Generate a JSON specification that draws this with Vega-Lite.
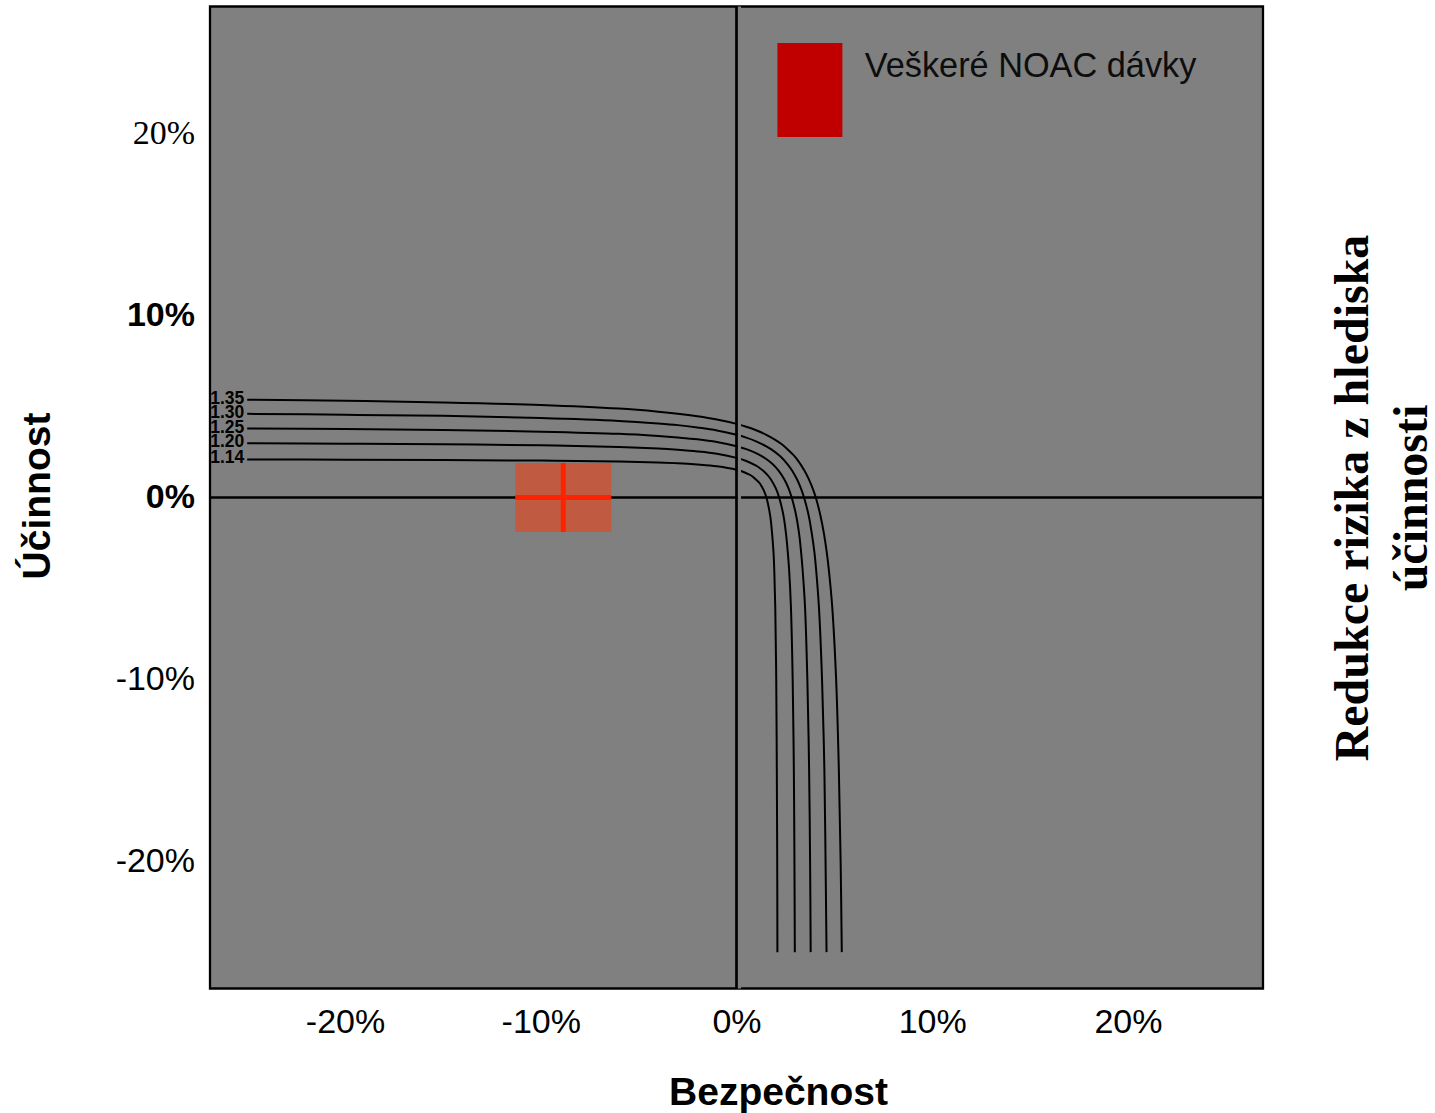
{
  "$schema": "https://vega.github.io/schema/vega-lite/v6.json",
  "width": 1053,
  "height": 982,
  "autosize": "none",
  "padding": {"left": 210, "top": 6.5, "right": 172, "bottom": 124.5},
  "background": "white",
  "config": {
    "view": {"fill": "#808080", "stroke": "#000000", "strokeWidth": 2.3},
    "font": "Liberation Sans"
  },
  "datasets": {
    "curves": [
      {"c": "1.35", "x": -25, "y": 5.38}, {"c": "1.35", "x": -20, "y": 5.32}, {"c": "1.35", "x": -15, "y": 5.23}, {"c": "1.35", "x": -10, "y": 5.09},
      {"c": "1.35", "x": -6, "y": 4.89}, {"c": "1.35", "x": -4, "y": 4.72}, {"c": "1.35", "x": -3, "y": 4.61}, {"c": "1.35", "x": -2, "y": 4.47},
      {"c": "1.35", "x": -1, "y": 4.29}, {"c": "1.35", "x": 0, "y": 4.05}, {"c": "1.35", "x": 0.5, "y": 3.89}, {"c": "1.35", "x": 1, "y": 3.70},
      {"c": "1.35", "x": 1.5, "y": 3.46}, {"c": "1.35", "x": 2, "y": 3.16}, {"c": "1.35", "x": 2.3, "y": 2.94}, {"c": "1.35", "x": 2.63, "y": 2.63},
      {"c": "1.35", "x": 2.94, "y": 2.3}, {"c": "1.35", "x": 3.16, "y": 2}, {"c": "1.35", "x": 3.46, "y": 1.5}, {"c": "1.35", "x": 3.70, "y": 1},
      {"c": "1.35", "x": 3.89, "y": 0.5}, {"c": "1.35", "x": 4.05, "y": 0}, {"c": "1.35", "x": 4.29, "y": -1}, {"c": "1.35", "x": 4.47, "y": -2},
      {"c": "1.35", "x": 4.61, "y": -3}, {"c": "1.35", "x": 4.72, "y": -4}, {"c": "1.35", "x": 4.89, "y": -6}, {"c": "1.35", "x": 5.09, "y": -10},
      {"c": "1.35", "x": 5.23, "y": -15}, {"c": "1.35", "x": 5.32, "y": -20}, {"c": "1.35", "x": 5.38, "y": -25},

      {"c": "1.30", "x": -25, "y": 4.60}, {"c": "1.30", "x": -20, "y": 4.55}, {"c": "1.30", "x": -15, "y": 4.49}, {"c": "1.30", "x": -10, "y": 4.37},
      {"c": "1.30", "x": -6, "y": 4.21}, {"c": "1.30", "x": -4, "y": 4.07}, {"c": "1.30", "x": -3, "y": 3.98}, {"c": "1.30", "x": -2, "y": 3.85},
      {"c": "1.30", "x": -1, "y": 3.69}, {"c": "1.30", "x": 0, "y": 3.45}, {"c": "1.30", "x": 0.5, "y": 3.29}, {"c": "1.30", "x": 1, "y": 3.09},
      {"c": "1.30", "x": 1.5, "y": 2.83}, {"c": "1.30", "x": 1.8, "y": 2.63}, {"c": "1.30", "x": 2.25, "y": 2.25}, {"c": "1.30", "x": 2.63, "y": 1.8},
      {"c": "1.30", "x": 2.83, "y": 1.5}, {"c": "1.30", "x": 3.09, "y": 1}, {"c": "1.30", "x": 3.29, "y": 0.5}, {"c": "1.30", "x": 3.45, "y": 0},
      {"c": "1.30", "x": 3.69, "y": -1}, {"c": "1.30", "x": 3.85, "y": -2}, {"c": "1.30", "x": 3.98, "y": -3}, {"c": "1.30", "x": 4.07, "y": -4},
      {"c": "1.30", "x": 4.21, "y": -6}, {"c": "1.30", "x": 4.37, "y": -10}, {"c": "1.30", "x": 4.49, "y": -15}, {"c": "1.30", "x": 4.55, "y": -20},
      {"c": "1.30", "x": 4.60, "y": -25},

      {"c": "1.25", "x": -25, "y": 3.79}, {"c": "1.25", "x": -20, "y": 3.76}, {"c": "1.25", "x": -15, "y": 3.71}, {"c": "1.25", "x": -10, "y": 3.62},
      {"c": "1.25", "x": -6, "y": 3.50}, {"c": "1.25", "x": -4, "y": 3.38}, {"c": "1.25", "x": -3, "y": 3.30}, {"c": "1.25", "x": -2, "y": 3.20},
      {"c": "1.25", "x": -1, "y": 3.05}, {"c": "1.25", "x": 0, "y": 2.82}, {"c": "1.25", "x": 0.5, "y": 2.66}, {"c": "1.25", "x": 1, "y": 2.44},
      {"c": "1.25", "x": 1.5, "y": 2.13}, {"c": "1.25", "x": 1.84, "y": 1.84}, {"c": "1.25", "x": 2.13, "y": 1.5}, {"c": "1.25", "x": 2.44, "y": 1},
      {"c": "1.25", "x": 2.66, "y": 0.5}, {"c": "1.25", "x": 2.82, "y": 0}, {"c": "1.25", "x": 3.05, "y": -1}, {"c": "1.25", "x": 3.20, "y": -2},
      {"c": "1.25", "x": 3.30, "y": -3}, {"c": "1.25", "x": 3.38, "y": -4}, {"c": "1.25", "x": 3.50, "y": -6}, {"c": "1.25", "x": 3.62, "y": -10},
      {"c": "1.25", "x": 3.71, "y": -15}, {"c": "1.25", "x": 3.76, "y": -20}, {"c": "1.25", "x": 3.79, "y": -25},

      {"c": "1.20", "x": -25, "y": 2.98}, {"c": "1.20", "x": -20, "y": 2.96}, {"c": "1.20", "x": -15, "y": 2.93}, {"c": "1.20", "x": -10, "y": 2.87},
      {"c": "1.20", "x": -6, "y": 2.78}, {"c": "1.20", "x": -4, "y": 2.69}, {"c": "1.20", "x": -3, "y": 2.62}, {"c": "1.20", "x": -2, "y": 2.53},
      {"c": "1.20", "x": -1, "y": 2.40}, {"c": "1.20", "x": 0, "y": 2.18}, {"c": "1.20", "x": 0.5, "y": 2.01}, {"c": "1.20", "x": 1, "y": 1.75},
      {"c": "1.20", "x": 1.2, "y": 1.61}, {"c": "1.20", "x": 1.42, "y": 1.42}, {"c": "1.20", "x": 1.61, "y": 1.2}, {"c": "1.20", "x": 1.75, "y": 1},
      {"c": "1.20", "x": 2.01, "y": 0.5}, {"c": "1.20", "x": 2.18, "y": 0}, {"c": "1.20", "x": 2.40, "y": -1}, {"c": "1.20", "x": 2.53, "y": -2},
      {"c": "1.20", "x": 2.62, "y": -3}, {"c": "1.20", "x": 2.69, "y": -4}, {"c": "1.20", "x": 2.78, "y": -6}, {"c": "1.20", "x": 2.87, "y": -10},
      {"c": "1.20", "x": 2.93, "y": -15}, {"c": "1.20", "x": 2.96, "y": -20}, {"c": "1.20", "x": 2.98, "y": -25},

      {"c": "1.14", "x": -25, "y": 2.09}, {"c": "1.14", "x": -20, "y": 2.08}, {"c": "1.14", "x": -15, "y": 2.06}, {"c": "1.14", "x": -10, "y": 2.03},
      {"c": "1.14", "x": -6, "y": 1.98}, {"c": "1.14", "x": -4, "y": 1.93}, {"c": "1.14", "x": -3, "y": 1.89}, {"c": "1.14", "x": -2, "y": 1.82},
      {"c": "1.14", "x": -1, "y": 1.72}, {"c": "1.14", "x": 0, "y": 1.53}, {"c": "1.14", "x": 0.3, "y": 1.43}, {"c": "1.14", "x": 0.6, "y": 1.29},
      {"c": "1.14", "x": 0.8, "y": 1.17}, {"c": "1.14", "x": 0.99, "y": 0.99}, {"c": "1.14", "x": 1.17, "y": 0.8}, {"c": "1.14", "x": 1.29, "y": 0.6},
      {"c": "1.14", "x": 1.43, "y": 0.3}, {"c": "1.14", "x": 1.53, "y": 0}, {"c": "1.14", "x": 1.72, "y": -1}, {"c": "1.14", "x": 1.82, "y": -2},
      {"c": "1.14", "x": 1.89, "y": -3}, {"c": "1.14", "x": 1.93, "y": -4}, {"c": "1.14", "x": 1.98, "y": -6}, {"c": "1.14", "x": 2.03, "y": -10},
      {"c": "1.14", "x": 2.06, "y": -15}, {"c": "1.14", "x": 2.08, "y": -20}, {"c": "1.14", "x": 2.09, "y": -25}
    ],
    "curveLabels": [
      {"c": "1.35", "x": -26.89, "y": 5.38},
      {"c": "1.30", "x": -26.89, "y": 4.60},
      {"c": "1.25", "x": -26.89, "y": 3.79},
      {"c": "1.20", "x": -26.89, "y": 2.98},
      {"c": "1.14", "x": -26.89, "y": 2.09}
    ]
  },
  "layer": [
    {
      "data": {"name": "curves"},
      "mark": {"type": "line", "color": "#000000", "strokeWidth": 2, "interpolate": "catmull-rom"},
      "encoding": {
        "x": {
          "field": "x", "type": "quantitative",
          "scale": {"domain": [-26.9, 26.9], "nice": false, "zero": false},
          "axis": {
            "values": [-20, -10, 0, 10, 20],
            "labelExpr": "datum.value + '%'",
            "labelFont": "Liberation Sans",
            "labelFontSize": 34,
            "labelColor": "#000000",
            "labelBaseline": "alphabetic",
            "labelPadding": 44,
            "labelFlush": false,
            "ticks": false,
            "tickSize": 0,
            "domain": false,
            "grid": false,
            "title": "Bezpečnost",
            "titleFont": "Liberation Sans",
            "titleFontSize": 39,
            "titleFontWeight": "bold",
            "titleColor": "#000000",
            "titleAlign": "center",
            "titleBaseline": "alphabetic",
            "titleX": 568,
            "titleY": 116
          }
        },
        "y": {
          "field": "y", "type": "quantitative",
          "scale": {"domain": [-27, 27], "nice": false, "zero": false},
          "axis": {
            "values": [-20, -10, 0, 10, 20],
            "labelExpr": "datum.value + '%'",
            "labelFont": {"condition": {"test": "datum.value === 20", "value": "Liberation Serif"}, "value": "Liberation Sans"},
            "labelFontWeight": {"condition": {"test": "datum.value === 10 || datum.value === 0", "value": "bold"}, "value": "normal"},
            "labelFontSize": 34,
            "labelColor": "#000000",
            "labelPadding": 15.5,
            "labelFlush": false,
            "ticks": false,
            "tickSize": 0,
            "domain": false,
            "grid": false,
            "title": "Účinnost",
            "titleFont": "Liberation Sans",
            "titleFontSize": 39,
            "titleFontWeight": "bold",
            "titleColor": "#000000",
            "titleAngle": -90,
            "titleAlign": "center",
            "titleBaseline": "alphabetic",
            "titleX": -161,
            "titleY": 489
          }
        },
        "detail": {"field": "c"}
      }
    },
    {
      "data": {"values": [{"y": 0}]},
      "mark": {"type": "rule", "color": "#000000", "strokeWidth": 2.5},
      "encoding": {
        "y": {
          "field": "y", "type": "quantitative",
          "axis": {
            "orient": "right",
            "labels": false,
            "ticks": false,
            "domain": false,
            "grid": false,
            "title": ["Redukce rizika z hlediska", "účinnosti"],
            "titleFont": "Liberation Serif",
            "titleFontSize": 48,
            "titleFontWeight": "bold",
            "titleColor": "#000000",
            "titleAngle": -90,
            "titleAlign": "center",
            "titleBaseline": "alphabetic",
            "titleLineHeight": 59,
            "titleX": 104,
            "titleY": 491
          }
        }
      }
    },
    {
      "data": {"values": [{"x": 0.14, "y": -27, "y2": 27}]},
      "mark": {"type": "rule", "color": "#808080", "strokeWidth": 3.6},
      "encoding": {
        "x": {"field": "x", "type": "quantitative"},
        "y": {"field": "y", "type": "quantitative", "axis": null},
        "y2": {"field": "y2"}
      }
    },
    {
      "data": {"values": [{"x": 0}]},
      "mark": {"type": "rule", "color": "#000000", "strokeWidth": 2.7},
      "encoding": {
        "x": {"field": "x", "type": "quantitative"}
      }
    },
    {
      "data": {"values": [{"x": -11.3, "x2": -6.4, "y": -1.9, "y2": 1.9}]},
      "mark": {"type": "rect", "color": "#FF3300", "opacity": 0.5},
      "encoding": {
        "x": {"field": "x", "type": "quantitative"},
        "x2": {"field": "x2"},
        "y": {"field": "y", "type": "quantitative", "axis": null},
        "y2": {"field": "y2"}
      }
    },
    {
      "data": {"values": [
        {"x": -11.3, "x2": -6.4, "y": 0, "y2": 0},
        {"x": -8.85, "x2": -8.85, "y": -1.9, "y2": 1.9}
      ]},
      "mark": {"type": "rule", "color": "#FF2200", "strokeWidth": 5},
      "encoding": {
        "x": {"field": "x", "type": "quantitative"},
        "x2": {"field": "x2"},
        "y": {"field": "y", "type": "quantitative", "axis": null},
        "y2": {"field": "y2"}
      }
    },
    {
      "data": {"values": [{"x": 2.09, "x2": 5.41, "y": 19.82, "y2": 24.99}]},
      "mark": {"type": "rect", "color": "#C00000"},
      "encoding": {
        "x": {"field": "x", "type": "quantitative"},
        "x2": {"field": "x2"},
        "y": {"field": "y", "type": "quantitative", "axis": null},
        "y2": {"field": "y2"}
      }
    },
    {
      "data": {"values": [{"x": 6.55, "y": 23.12, "t": "Veškeré NOAC dávky"}]},
      "mark": {"type": "text", "font": "Liberation Sans", "fontSize": 34.3, "color": "#0d0d0d", "align": "left", "baseline": "alphabetic"},
      "encoding": {
        "x": {"field": "x", "type": "quantitative"},
        "y": {"field": "y", "type": "quantitative", "axis": null},
        "text": {"field": "t"}
      }
    },
    {
      "data": {"name": "curveLabels"},
      "mark": {"type": "text", "font": "Liberation Sans", "fontSize": 17.5, "fontWeight": "bold", "color": "#000000", "align": "left", "baseline": "middle", "dy": -1},
      "encoding": {
        "x": {"field": "x", "type": "quantitative"},
        "y": {"field": "y", "type": "quantitative", "axis": null},
        "text": {"field": "c"}
      }
    }
  ],
  "resolve": {"axis": {"y": "independent"}}
}
